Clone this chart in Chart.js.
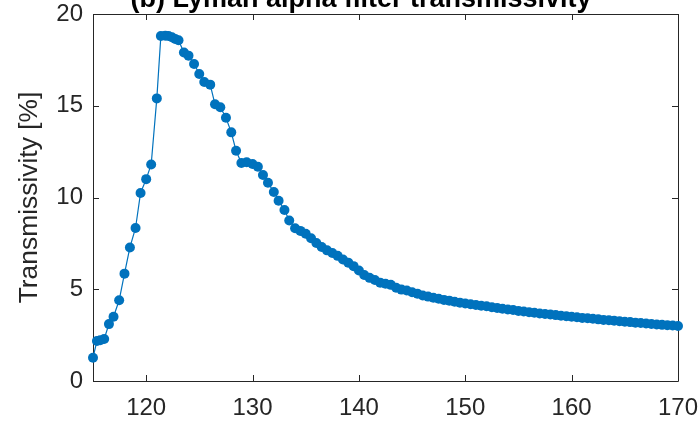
<!DOCTYPE html>
<html>
<head>
<meta charset="utf-8">
<script src="https://cdn.jsdelivr.net/npm/chart.js@4.4.1/dist/chart.umd.min.js"></script>
<style>
  html, body { margin: 0; padding: 0; background: #fff; }
  #wrap { width: 699px; height: 422px; }
</style>
</head>
<body>
<div id="wrap"><canvas id="chart" width="699" height="422"></canvas></div>
<script>
const wavelength = [
  115.0, 115.37, 115.68, 116.05, 116.5, 116.93, 117.46, 117.96, 118.47, 119.0,
  119.47, 120.0, 120.47, 121.0, 121.38, 121.8, 122.1, 122.42, 122.73, 123.04,
  123.55, 123.98, 124.5, 124.99, 125.46, 126.02, 126.47, 126.97, 127.5, 128.0,
  128.45, 128.95, 129.45, 130.0, 130.5, 130.98, 131.45, 132.0, 132.45, 133.0,
  133.45, 134.0, 134.5, 135.0, 135.5, 136.0, 136.5, 137.0, 137.5, 138.0,
  138.5, 139.0, 139.5, 140.0, 140.5, 141.0, 141.5, 142.0, 142.5, 143.0,
  143.5, 144.0, 144.5, 145.0, 145.5, 146.0, 146.5, 147.0, 147.5, 148.0,
  148.5, 149.0, 149.5, 150.0, 150.5, 151.0, 151.5, 152.0, 152.5, 153.0,
  153.5, 154.0, 154.5, 155.0, 155.5, 156.0, 156.5, 157.0, 157.5, 158.0,
  158.5, 159.0, 159.5, 160.0, 160.5, 161.0, 161.5, 162.0, 162.5, 163.0,
  163.5, 164.0, 164.5, 165.0, 165.5, 166.0, 166.5, 167.0, 167.5, 168.0,
  168.5, 169.0, 169.5, 170.0
]
const transmissivity = [
  1.27, 2.18, 2.22, 2.29, 3.1, 3.5, 4.4, 5.85, 7.28, 8.34,
  10.25, 11.0, 11.8, 15.4, 18.8, 18.82, 18.8, 18.73, 18.64, 18.57,
  17.9, 17.73, 17.28, 16.73, 16.29, 16.15, 15.08, 14.92, 14.35, 13.55,
  12.55, 11.88, 11.92, 11.83, 11.68, 11.23, 10.8, 10.3, 9.82, 9.32,
  8.75, 8.32, 8.18, 8.02, 7.78, 7.52, 7.3, 7.12, 6.98, 6.82,
  6.62, 6.45, 6.26, 6.02, 5.78, 5.62, 5.5, 5.36, 5.3, 5.24,
  5.08, 4.98, 4.93, 4.84, 4.76, 4.66, 4.6, 4.54, 4.48, 4.42,
  4.38, 4.32, 4.27, 4.22, 4.18, 4.14, 4.1, 4.07, 4.02, 3.98,
  3.94, 3.9, 3.87, 3.82, 3.79, 3.75, 3.72, 3.68, 3.65, 3.62,
  3.59, 3.56, 3.53, 3.5, 3.47, 3.44, 3.42, 3.39, 3.36, 3.33,
  3.31, 3.28, 3.26, 3.23, 3.21, 3.18, 3.16, 3.13, 3.11, 3.08,
  3.06, 3.04, 3.02, 3.0
]
const xTicks = [120, 130, 140, 150, 160, 170]
const yTicks = [0, 5, 10, 15, 20]

const axisColor = '#262626'
const lineColor = '#0072BD'
const fontFamily = '"Liberation Sans", Arial, Helvetica, sans-serif'

// MATLAB-like box with inward ticks on all four sides
const boxPlugin = {
  id: 'box',
  beforeDatasetsDraw(chart) {
    const { ctx, chartArea: a, scales: { x, y } } = chart
    const len = 6
    ctx.save()
    ctx.strokeStyle = axisColor
    ctx.lineWidth = 1
    ctx.beginPath()
    ctx.rect(Math.round(a.left) + 0.5, Math.round(a.top) + 0.5,
      Math.round(a.right - a.left), Math.round(a.bottom - a.top))
    xTicks.forEach(v => {
      const px = Math.round(x.getPixelForValue(v)) + 0.5
      ctx.moveTo(px, a.bottom); ctx.lineTo(px, a.bottom - len)
      ctx.moveTo(px, a.top); ctx.lineTo(px, a.top + len)
    })
    yTicks.forEach(v => {
      const py = Math.round(y.getPixelForValue(v)) + 0.5
      ctx.moveTo(a.left, py); ctx.lineTo(a.left + len, py)
      ctx.moveTo(a.right, py); ctx.lineTo(a.right - len, py)
    })
    ctx.stroke()
    ctx.restore()
  }
}

// title sits partly above the canvas, as in the original figure
const titlePlugin = {
  id: 'cutTitle',
  afterDraw(chart) {
    const { ctx } = chart
    ctx.save()
    ctx.fillStyle = '#000'
    ctx.font = 'bold 27px ' + fontFamily
    ctx.textAlign = 'center'
    ctx.textBaseline = 'alphabetic'
    ctx.fillText('(b) Lyman alpha filter transmissivity', 361, 7)
    ctx.restore()
  }
}

const ctx = document.getElementById('chart').getContext('2d')
new Chart(ctx, {
  type: 'scatter',
  data: {
    datasets: [{
      data: wavelength.map((w, i) => ({ x: w, y: transmissivity[i] })),
      showLine: true,
      borderColor: lineColor,
      borderWidth: 1.2,
      backgroundColor: lineColor,
      pointBackgroundColor: lineColor,
      pointBorderColor: lineColor,
      pointRadius: 5,
      pointBorderWidth: 0,
      clip: false
    }]
  },
  options: {
    responsive: false,
    animation: false,
    layout: { padding: { top: 14, right: 21, left: 0, bottom: 0 } },
    plugins: { legend: { display: false }, tooltip: { enabled: false } },
    scales: {
      x: {
        type: 'linear',
        min: 115,
        max: 170,
        afterBuildTicks: s => { s.ticks = xTicks.map(v => ({ value: v })) },
        afterFit: s => { s.height = 41; s.paddingLeft = 0; s.paddingRight = 0 },
        border: { display: false },
        grid: { display: false, drawTicks: false },
        ticks: { color: axisColor, padding: 13, maxRotation: 0,
          font: { family: fontFamily, size: 24 } }
      },
      y: {
        min: 0,
        max: 20,
        afterBuildTicks: s => { s.ticks = yTicks.map(v => ({ value: v })) },
        afterFit: s => { s.width = 93; s.paddingTop = 0; s.paddingBottom = 0 },
        border: { display: false },
        grid: { display: false, drawTicks: false },
        ticks: { color: axisColor, padding: 10,
          font: { family: fontFamily, size: 24 } },
        title: {
          display: true,
          text: 'Transmissivity [%]',
          color: axisColor,
          padding: { top: 14, bottom: 0 },
          font: { family: fontFamily, size: 26.4 }
        }
      }
    }
  },
  plugins: [boxPlugin, titlePlugin]
})
</script>
</body>
</html>
